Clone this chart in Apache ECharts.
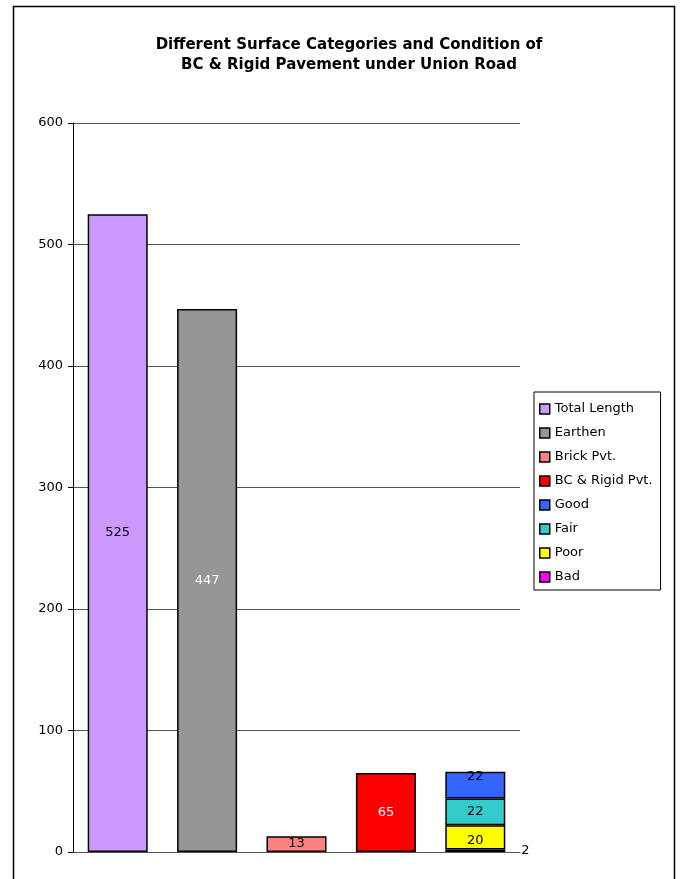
<!DOCTYPE html>
<html><head><meta charset="utf-8">
<script src="https://cdn.jsdelivr.net/npm/echarts@6/dist/echarts.min.js"></script>
<style>html,body{margin:0;padding:0;background:#fff}#c{width:681px;height:879px}</style>
</head><body><div id="c"></div>
<script>
var categories = ['Total Length', 'Earthen', 'Brick Pvt.', 'BC & Rigid Pvt.', 'Condition'];
var totalLength = [525, '-', '-', '-', '-'];
var earthen = ['-', 447, '-', '-', '-'];
var brick = ['-', '-', 13, '-', '-'];
var bcRigid = ['-', '-', '-', 65, '-'];
var good = ['-', '-', '-', '-', 22];
var fair = ['-', '-', '-', '-', 22];
var poor = ['-', '-', '-', '-', 20];
var bad = ['-', '-', '-', '-', 2];
var yTicks = [0, 100, 200, 300, 400, 500, 600];

var font = 'DejaVu Sans';
function ser(name, data, color, labelColor, labelExtra) {
  var lab = {show: true, position: 'inside', color: labelColor, fontFamily: font, fontSize: 13};
  if (labelExtra) for (var k in labelExtra) lab[k] = labelExtra[k];
  return {
    name: name, type: 'bar', stack: 'all', data: data, barWidth: 60,
    itemStyle: {color: color, borderColor: '#000', borderWidth: 1.5},
    label: lab, emphasis: {disabled: true}
  };
}
var chart = echarts.init(document.getElementById('c'), null, {renderer: 'canvas'});
chart.setOption({
  animation: false,
  backgroundColor: '#fff',
  graphic: [{type: 'rect', shape: {x: 13.5, y: 6.5, width: 661, height: 900},
    style: {fill: 'none', stroke: '#000', lineWidth: 1.5}, z: -1}],
  title: {
    text: 'Different Surface Categories and Condition of\nBC & Rigid Pavement under Union Road',
    left: 344, top: 30, textAlign: 'center',
    textStyle: {fontFamily: font, fontWeight: 'bold', fontSize: 15, color: '#000', lineHeight: 20}
  },
  legend: {
    orient: 'vertical', left: 534, top: 392, width: 128,
    data: ['Total Length', 'Earthen', 'Brick Pvt.', 'BC & Rigid Pvt.', 'Good', 'Fair', 'Poor', 'Bad'],
    itemWidth: 10, itemHeight: 10, itemGap: 10, padding: [10, 8, 6, 5],
    borderColor: '#000', borderWidth: 1, backgroundColor: '#fff',
    itemStyle: {borderColor: '#000', borderWidth: 1.5},
    textStyle: {fontFamily: font, fontSize: 13, lineHeight: 14, color: '#000', padding: [0, 0, 0, 0]},
    icon: 'rect', selectedMode: false
  },
  grid: {left: 73, right: 161, top: 123, bottom: 27, containLabel: false},
  xAxis: {
    type: 'category', data: categories,
    axisLine: {lineStyle: {color: '#555', width: 1}},
    axisTick: {show: false}, axisLabel: {show: false}
  },
  yAxis: {
    type: 'value', min: yTicks[0], max: yTicks[yTicks.length - 1], interval: 100,
    axisLine: {show: true, lineStyle: {color: '#000', width: 1}},
    axisTick: {show: true, length: 5, lineStyle: {color: '#000'}},
    axisLabel: {fontFamily: font, fontSize: 13, color: '#000', margin: 10},
    splitLine: {lineStyle: {color: '#555', width: 1}}
  },
  series: [
    ser('Total Length', totalLength, '#CC99FF', '#000'),
    ser('Earthen', earthen, '#969696', '#fff'),
    ser('Brick Pvt.', brick, '#FF8080', '#000'),
    ser('BC & Rigid Pvt.', bcRigid, '#FF0000', '#fff'),
    ser('Bad', bad, '#FF00FF', '#000', {position: 'right', distance: 16}),
    ser('Poor', poor, '#FFFF00', '#000', {offset: [0, 3]}),
    ser('Fair', fair, '#33CCCC', '#000'),
    ser('Good', good, '#3366FF', '#000', {position: 'insideTop', distance: 0, offset: [0, -2]})
  ]
});
</script></body></html>
